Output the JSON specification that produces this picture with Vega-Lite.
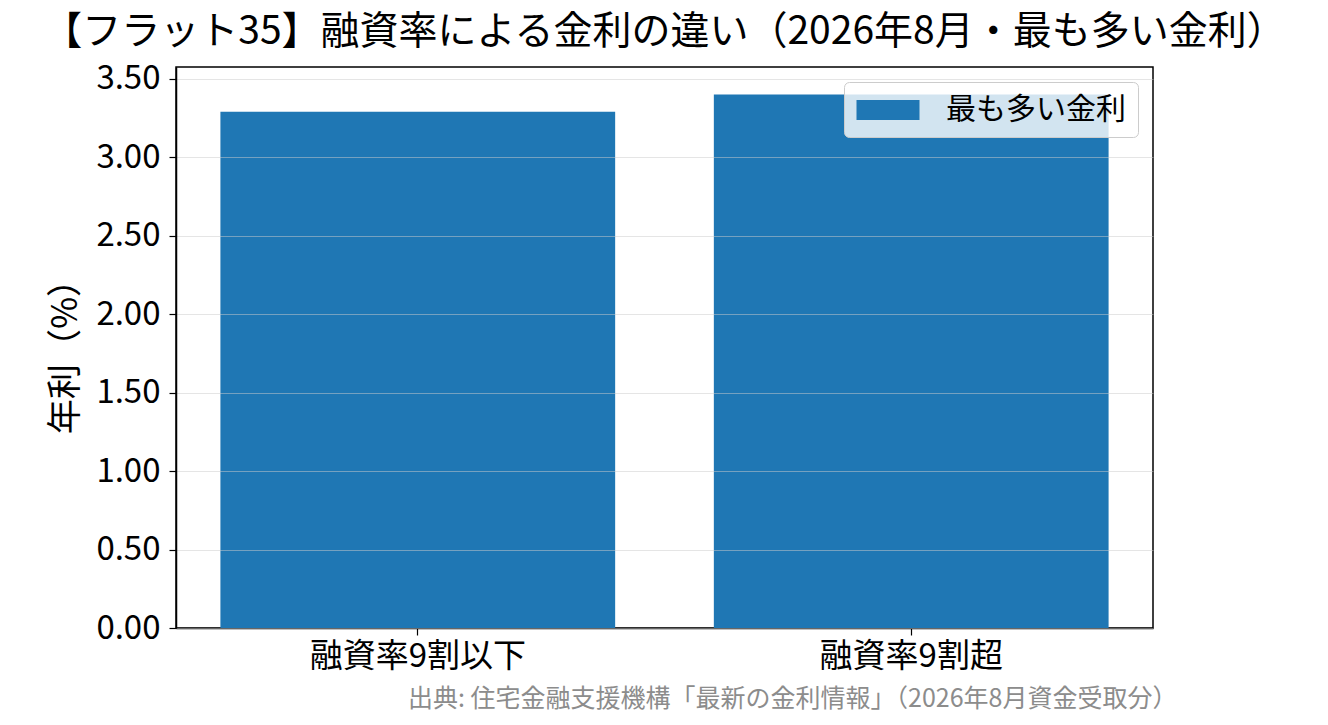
{
  "$schema": "https://vega.github.io/schema/vega-lite/v6.json",
  "autosize": "none",
  "width": 977,
  "height": 561,
  "padding": {"left": 176, "top": 67, "right": 175, "bottom": 97},
  "background": "white",
  "config": {
    "font": "Noto Sans CJK JP",
    "view": {"stroke": "black", "strokeWidth": 1.5}
  },
  "title": {
    "text": "【フラット35】融資率による金利の違い（2026年8月・最も多い金利）",
    "fontSize": 39,
    "fontWeight": "normal",
    "color": "black",
    "anchor": "middle",
    "frame": "group",
    "offset": 11,
    "limit": 0
  },
  "data": {
    "values": [
      {"category": "融資率9割以下", "rate": 3.29, "series": "最も多い金利"},
      {"category": "融資率9割超", "rate": 3.40, "series": "最も多い金利"}
    ]
  },
  "mark": {"type": "bar", "color": "#1f77b4"},
  "encoding": {
    "x": {
      "field": "category",
      "type": "nominal",
      "sort": null,
      "scale": {"paddingInner": 0.2, "paddingOuter": 0.09},
      "axis": {
        "title": "出典: 住宅金融支援機構「最新の金利情報」（2026年8月資金受取分）",
        "titleColor": "#8c8c8c",
        "titleFontSize": 25,
        "titleFontWeight": "normal",
        "titleAnchor": "end",
        "titleAlign": "right",
        "titleX": 1001,
        "titleY": 78,
        "titleBaseline": "alphabetic",
        "titleLimit": 0,
        "labelAngle": 0,
        "labelFontSize": 33,
        "labelLimit": 0,
        "labelColor": "black",
        "labelPadding": 5,
        "tickColor": "black",
        "tickSize": 7,
        "tickWidth": 1.2,
        "domainColor": "black",
        "domainWidth": 1.5
      }
    },
    "y": {
      "field": "rate",
      "type": "quantitative",
      "scale": {"domain": [0, 3.575], "nice": false, "zero": true},
      "axis": {
        "title": "年利（%）",
        "titleFontSize": 35,
        "titleFontWeight": "normal",
        "titleColor": "black",
        "titlePadding": 12,
        "values": [0, 0.5, 1, 1.5, 2, 2.5, 3, 3.5],
        "format": ".2f",
        "labelFontSize": 33,
        "labelColor": "black",
        "labelPadding": 9,
        "tickColor": "black",
        "tickSize": 7,
        "tickWidth": 1.2,
        "domainColor": "black",
        "domainWidth": 1.5,
        "grid": true,
        "gridColor": "#cccccc",
        "gridOpacity": 0.5,
        "gridWidth": 1.2,
        "zindex": 1
      }
    },
    "fill": {
      "field": "series",
      "type": "nominal",
      "scale": {"range": ["#1f77b4"]},
      "legend": {
        "title": null,
        "orient": "top-right",
        "offset": 15,
        "padding": 12,
        "fillColor": "rgba(255,255,255,0.8)",
        "strokeColor": "#cccccc",
        "cornerRadius": 5,
        "labelFontSize": 30,
        "labelLimit": 0,
        "labelColor": "black",
        "labelOffset": 42,
        "symbolType": "M-2,-0.64H2V0.64H-2Z",
        "symbolSize": 992,
        "symbolOffset": 16,
        "symbolStrokeWidth": 0,
        "symbolOpacity": 1,
        "zindex": 2
      }
    }
  }
}
